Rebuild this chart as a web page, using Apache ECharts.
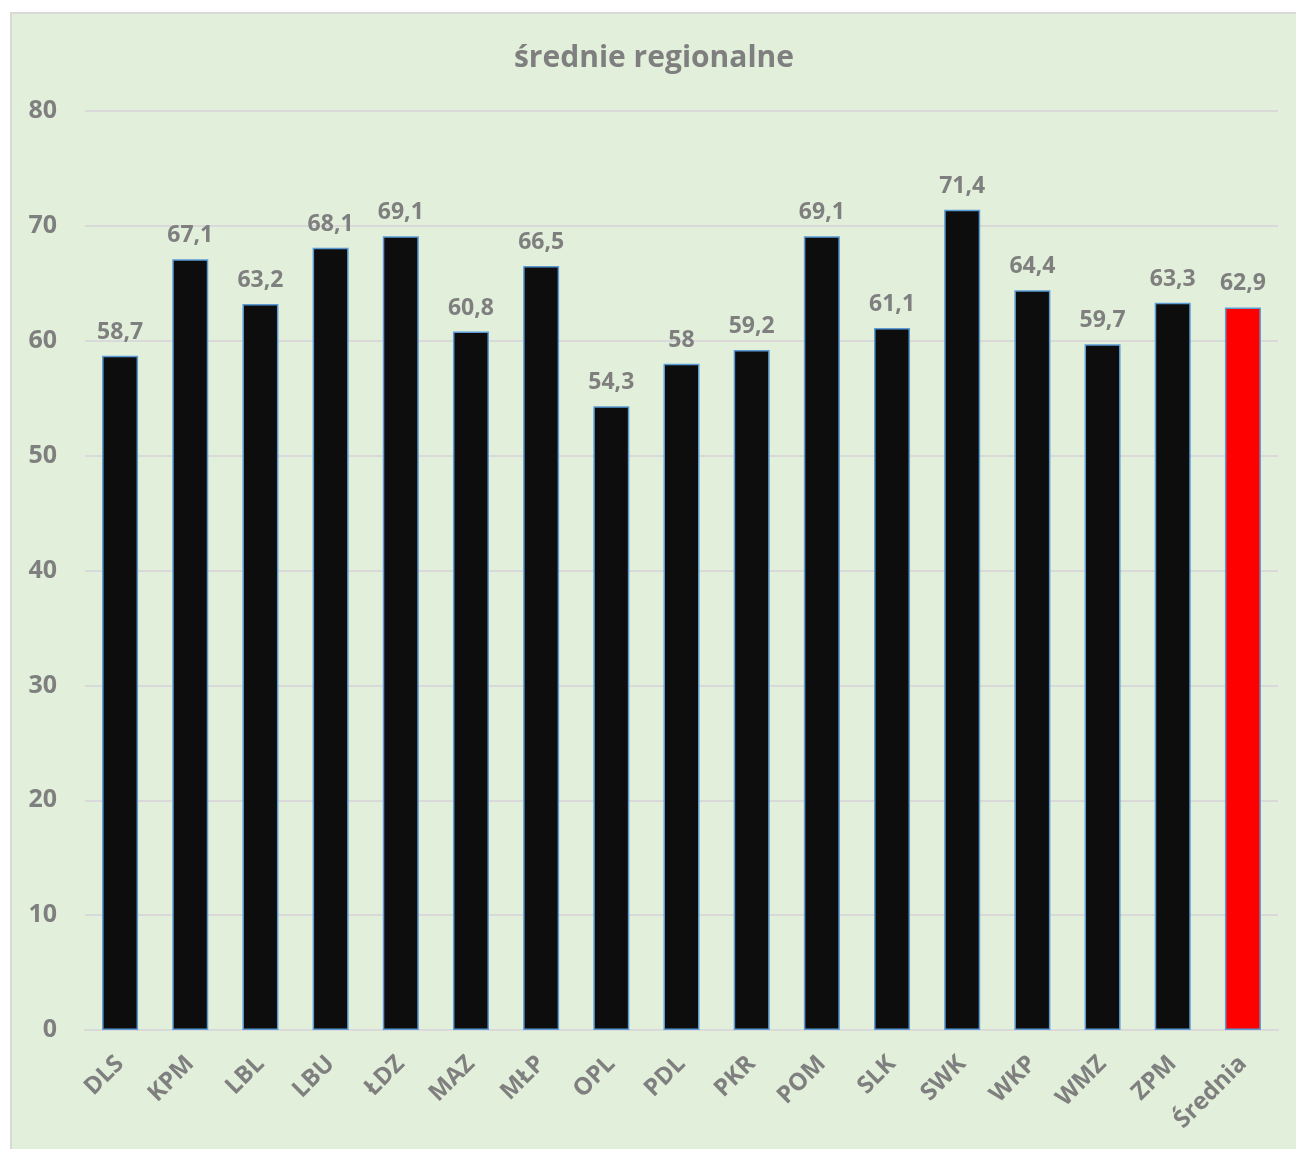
<!DOCTYPE html>
<html>
<head>
<meta charset="utf-8">
<script src="https://cdn.jsdelivr.net/npm/echarts@6/dist/echarts.min.js"></script>
<style>
  html, body { margin: 0; padding: 0; background: #ffffff; overflow: hidden; width: 1296px; height: 1149px; }
  #chart {
    position: absolute;
    left: 10px;
    top: 12px;
    width: 1284px;
    height: 1135px;
    border-left: 2px solid #d9d9d9;
    border-top: 2px solid #d9d9d9;
    background: #e2efda;
  }
</style>
</head>
<body>
<div id="chart"></div>
<script>
// regiony
const categories = ['DLS', 'KPM', 'LBL', 'LBU', 'ŁDZ', 'MAZ', 'MŁP', 'OPL', 'PDL', 'PKR', 'POM', 'SLK', 'SWK', 'WKP', 'WMZ', 'ZPM', 'Średnia'];
const values = [58.7, 67.1, 63.2, 68.1, 69.1, 60.8, 66.5, 54.3, 58, 59.2, 69.1, 61.1, 71.4, 64.4, 59.7, 63.3, 62.9];
const highlight = 'Średnia';

const font = '"Open Sans", sans-serif';
const grey = '#7f7f7f';

const chart = echarts.init(document.getElementById('chart'));

const option = {
  backgroundColor: '#e2efda',
  animation: false,
  title: {
    text: 'średnie regionalne',
    left: 'center',
    top: 24,
    textStyle: { fontFamily: font, fontSize: 30, fontWeight: 'bold', color: grey }
  },
  grid: { left: 73, right: 18, top: 97, bottom: 119 },
  xAxis: {
    type: 'category',
    data: categories,
    axisLine: { lineStyle: { color: '#d9d9d9', width: 2 } },
    axisTick: { show: false },
    axisLabel: {
      rotate: 45,
      margin: 30,
      interval: 0,
      fontFamily: font,
      fontSize: 24,
      fontWeight: 'bold',
      color: grey
    }
  },
  yAxis: {
    type: 'value',
    min: 0,
    max: 80,
    interval: 10,
    axisLine: { show: false },
    axisTick: { show: false },
    splitLine: { lineStyle: { color: '#d9d9d9', width: 2 } },
    axisLabel: {
      margin: 28,
      fontFamily: font,
      fontSize: 25,
      fontWeight: 'bold',
      color: grey
    }
  },
  series: [{
    type: 'bar',
    barWidth: 36,
    data: values.map((v, i) => ({
      value: v,
      itemStyle: { color: categories[i] === highlight ? '#ff0000' : '#0d0d0d' }
    })),
    itemStyle: { borderColor: '#5b9bd5', borderWidth: 1.5 },
    label: {
      show: true,
      position: 'top',
      distance: 12,
      fontFamily: font,
      fontSize: 23,
      fontWeight: 'bold',
      color: grey,
      formatter: (p) => String(p.value).replace('.', ',')
    }
  }]
};

chart.setOption(option);
</script>
</body>
</html>
